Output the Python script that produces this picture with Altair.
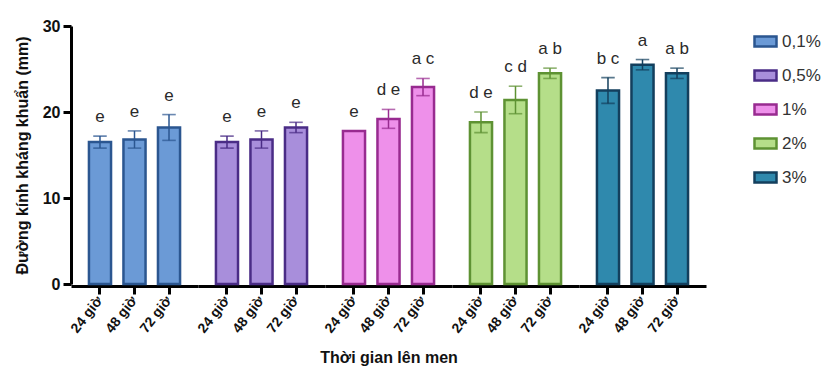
import altair as alt
import pandas as pd

# Nồng độ (nhóm) và thời gian lên men (cột trong nhóm)
concentrations = ["0,1%", "0,5%", "1%", "2%", "3%"]
times = ["24 giờ", "48 giờ", "72 giờ"]

# Đường kính kháng khuẩn trung bình (mm), theo nồng độ × thời gian
means = {
    "0,1%": [16.5, 16.8, 18.2],
    "0,5%": [16.5, 16.8, 18.2],
    "1%": [17.8, 19.2, 22.9],
    "2%": [18.8, 21.4, 24.5],
    "3%": [22.5, 25.5, 24.5],
}
# Độ lệch chuẩn
errors = {
    "0,1%": [0.7, 1.0, 1.5],
    "0,5%": [0.7, 1.0, 0.6],
    "1%": [0.0, 1.1, 1.0],
    "2%": [1.2, 1.6, 0.6],
    "3%": [1.5, 0.6, 0.6],
}
# Ký hiệu khác biệt thống kê
letters = {
    "0,1%": ["e", "e", "e"],
    "0,5%": ["e", "e", "e"],
    "1%": ["e", "d e", "a c"],
    "2%": ["d e", "c d", "a b"],
    "3%": ["b c", "a", "a b"],
}

fill_colors = ["#6b9ad6", "#a88edb", "#ee90ea", "#b5de89", "#2f89ad"]
stroke_colors = ["#2b5690", "#4a2c86", "#982b90", "#5e9233", "#133f5d"]

rows = []
for c in concentrations:
    for i, t in enumerate(times):
        m, e = means[c][i], errors[c][i]
        rows.append({"nong_do": c, "thoi_gian": t, "tb": m,
                     "lo": m - e, "hi": m + e, "nhan": letters[c][i]})
df = pd.DataFrame(rows)

FONT = "Liberation Sans"

x_enc = alt.X("thoi_gian:N", sort=times, title=None,
              scale=alt.Scale(paddingInner=0.36, paddingOuter=0.52))
y_scale = alt.Scale(domain=[0, 30])
fill_scale = alt.Scale(domain=concentrations, range=fill_colors)
stroke_scale = alt.Scale(domain=concentrations, range=stroke_colors)


def stroke_enc():
    return alt.Stroke("nong_do:N", sort=concentrations, title=None, scale=stroke_scale)


bars = alt.Chart().mark_bar(strokeWidth=2.5).encode(
    x=x_enc,
    y=alt.Y("tb:Q", scale=y_scale, title="Đường kính kháng khuẩn (mm)",
            axis=alt.Axis(values=[0, 10, 20, 30])),
    fill=alt.Fill("nong_do:N", sort=concentrations, title=None, scale=fill_scale),
    stroke=stroke_enc(),
)

# Thanh sai số: đoạn dọc và hai vạch ngang ở hai đầu
err_rule = alt.Chart().mark_rule(strokeWidth=1.5).encode(
    x=x_enc,
    y=alt.Y("lo:Q", scale=y_scale),
    y2="hi:Q",
    stroke=stroke_enc(),
)
cap_hi = alt.Chart().mark_tick(size=12, thickness=0.1, filled=False, strokeWidth=1.5).encode(
    x=x_enc,
    y=alt.Y("hi:Q", scale=y_scale),
    stroke=stroke_enc(),
)
cap_lo = alt.Chart().mark_tick(size=12, thickness=0.1, filled=False, strokeWidth=1.5).encode(
    x=x_enc,
    y=alt.Y("lo:Q", scale=y_scale),
    stroke=stroke_enc(),
)

labels = alt.Chart().mark_text(
    baseline="bottom", dy=-10, fontSize=17, font=FONT, color="#2a2a2a"
).encode(
    x=x_enc,
    y=alt.Y("hi:Q", scale=y_scale),
    text="nhan:N",
)

layered = alt.layer(bars, err_rule, cap_hi, cap_lo, labels, data=df).properties(
    width=127, height=258
)

chart = layered.facet(
    column=alt.Column(
        "nong_do:N", sort=concentrations,
        header=alt.Header(labels=False, title="Thời gian lên men",
                          titleOrient="bottom", titleFont=FONT,
                          titleFontSize=16, titleFontWeight="bold",
                          titleColor="#111", titlePadding=4),
    ),
    spacing=0,
).configure_view(
    stroke=None
).configure_axis(
    domainColor="#000", domainWidth=3, tickColor="#000", tickWidth=3,
    tickSize=8, labelFont=FONT, labelFontWeight="bold", labelColor="#111",
    titleFont=FONT, titleFontWeight="bold", titleColor="#111", grid=False,
).configure_axisY(
    labelFontSize=16, titleFontSize=16, labelPadding=3, titlePadding=12,
).configure_axisX(
    labelFontSize=14, labelAngle=-52, labelPadding=4,
).configure_legend(
    orient="right", offset=44, padding=3,
    symbolType="M-1,-0.45H1V0.45H-1Z", symbolSize=484, symbolStrokeWidth=2.5,
    labelFont=FONT, labelFontSize=17, labelColor="#333", rowPadding=11,
    symbolOpacity=1,
).properties(background="white", padding={"left": 14, "top": 18, "right": 5, "bottom": 5})

chart.save("out.html", embed_options={"renderer": "svg", "actions": False})
